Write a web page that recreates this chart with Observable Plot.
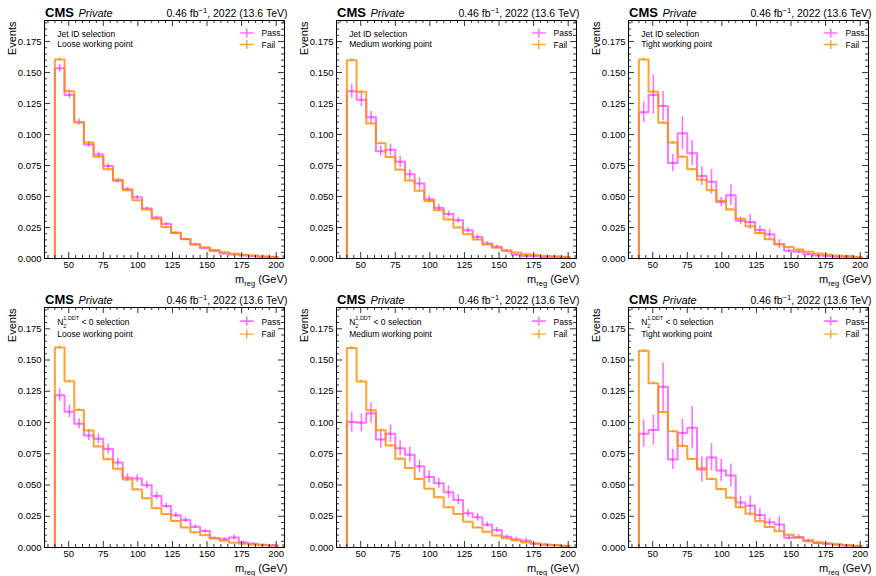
<!DOCTYPE html>
<html><head><meta charset="utf-8">
<script src="https://cdn.jsdelivr.net/npm/d3@7"></script>
<script src="https://cdn.jsdelivr.net/npm/@observablehq/plot@0.6"></script>
<style>
html,body{margin:0;padding:0;background:#fff;}
#grid{display:grid;grid-template-columns:292px 292px 292px;grid-template-rows:288px 288px;width:876px;height:576px;overflow:hidden;}
#grid svg{display:block;}
</style></head><body><div id="grid"></div>
<script>
// ---- bins & ticks ----
const binEdges = d3.range(40, 202, 7); // 40..201, 23 bins
const xMajorTicks = [50, 75, 100, 125, 150, 175, 200];
const xMinorTicks = [35, 40, 45, 55, 60, 65, 70, 80, 85, 90, 95, 105, 110, 115, 120, 130, 135, 140, 145, 155, 160, 165, 170, 180, 185, 190, 195, 205];
const yMajorTicks = [0, 0.025, 0.05, 0.075, 0.1, 0.125, 0.15, 0.175];
const yMinorTicks = [0.005,0.01,0.015,0.02,0.03,0.035,0.04,0.045,0.055,0.06,0.065,0.07,0.08,0.085,0.09,0.095,0.105,0.11,0.115,0.12,0.13,0.135,0.14,0.145,0.155,0.16,0.165,0.17,0.18,0.185,0.19];

// ---- labels ----
const selectionLabels = ["Jet ID selection", "Jet ID selection", "Jet ID selection",
  "N2^1,DDT < 0 selection", "N2^1,DDT < 0 selection", "N2^1,DDT < 0 selection"];
const workingPointLabels = ["Loose working point", "Medium working point", "Tight working point",
  "Loose working point", "Medium working point", "Tight working point"];
const legendLabels = ["Pass", "Fail"];
const yLabel = "Events";
const xLabel = "m_reg (GeV)";
const lumiLabel = "0.46 fb^-1, 2022 (13.6 TeV)";
const expLabel = "CMS";
const statusLabel = "Private";

// ---- series ----
const passJetLoose = [0.1535, 0.132, 0.110, 0.092, 0.084, 0.0746, 0.0628, 0.0558, 0.0494, 0.0403, 0.033, 0.0279, 0.0207, 0.0158, 0.0113, 0.0083, 0.006, 0.004, 0.0032, 0.0025, 0.0018, 0.0013, 0.001];
const passErrJetLoose = [0.003, 0.003, 0.0025, 0.0022, 0.002, 0.0019, 0.0017, 0.0016, 0.0015, 0.0013, 0.0012, 0.0011, 0.001, 0.0009, 0.0008, 0.0007, 0.0006, 0.0005, 0.0004, 0.0004, 0.0003, 0.0003, 0.0002];
const failJetLoose = [0.1605, 0.135, 0.110, 0.0935, 0.082, 0.072, 0.0635, 0.055, 0.047, 0.0395, 0.032, 0.0255, 0.0205, 0.0155, 0.0115, 0.009, 0.0068, 0.005, 0.0038, 0.003, 0.0024, 0.0019, 0.0015];

const passJetMedium = [0.1349, 0.128, 0.114, 0.0866, 0.0877, 0.078, 0.068, 0.0606, 0.0477, 0.0408, 0.0359, 0.0308, 0.0228, 0.0174, 0.0121, 0.0094, 0.0062, 0.003, 0.0021, 0.0018, 0.0013, 0.001, 0.0008];
const passErrJetMedium = [0.0056, 0.0056, 0.0045, 0.004, 0.0045, 0.0045, 0.0036, 0.0045, 0.003, 0.0027, 0.0025, 0.0023, 0.002, 0.0018, 0.0015, 0.0013, 0.001, 0.0008, 0.0006, 0.0005, 0.0005, 0.0004, 0.0003];
const failJetMedium = [0.160, 0.1346, 0.109, 0.093, 0.0818, 0.0716, 0.063, 0.0547, 0.0464, 0.0389, 0.0314, 0.025, 0.0196, 0.0153, 0.0113, 0.0086, 0.0064, 0.0048, 0.0035, 0.0028, 0.0022, 0.0018, 0.0014];

const passJetTight = [0.118, 0.132, 0.123, 0.077, 0.101, 0.085, 0.0665, 0.062, 0.0455, 0.051, 0.0305, 0.0295, 0.023, 0.0195, 0.0115, 0.0062, 0.0054, 0.0035, 0.0025, 0.002, 0.0015, 0.001, 0.0008];
const passErrJetTight = [0.0083, 0.0158, 0.0117, 0.0071, 0.0134, 0.010, 0.0076, 0.010, 0.004, 0.0082, 0.003, 0.006, 0.0034, 0.004, 0.0036, 0.0015, 0.0012, 0.001, 0.0008, 0.0006, 0.0005, 0.0005, 0.0004];
const failJetTight = [0.1605, 0.1345, 0.1095, 0.0935, 0.082, 0.072, 0.0635, 0.055, 0.0465, 0.0395, 0.032, 0.026, 0.0205, 0.0155, 0.0115, 0.0092, 0.0072, 0.0055, 0.004, 0.0032, 0.0025, 0.002, 0.0015];

const passN2Loose = [0.1219, 0.1087, 0.099, 0.0896, 0.087, 0.0789, 0.068, 0.0558, 0.0553, 0.0499, 0.0413, 0.0333, 0.0258, 0.022, 0.0166, 0.0132, 0.0075, 0.0068, 0.008, 0.004, 0.003, 0.0022, 0.0018];
const passErrN2Loose = [0.005, 0.005, 0.004, 0.004, 0.004, 0.004, 0.003, 0.003, 0.003, 0.003, 0.003, 0.002, 0.002, 0.002, 0.0015, 0.0015, 0.001, 0.001, 0.002, 0.001, 0.0008, 0.0006, 0.0005];
const failN2Loose = [0.160, 0.133, 0.110, 0.0937, 0.0808, 0.0706, 0.0631, 0.0545, 0.0464, 0.0395, 0.0314, 0.0268, 0.0212, 0.0161, 0.0123, 0.0099, 0.0075, 0.0054, 0.0038, 0.003, 0.0022, 0.0018, 0.0014];

const passN2Medium = [0.1004, 0.0998, 0.1074, 0.0864, 0.091, 0.0794, 0.0743, 0.065, 0.0564, 0.0515, 0.0443, 0.0381, 0.0274, 0.0242, 0.0183, 0.014, 0.0086, 0.0064, 0.0054, 0.003, 0.0022, 0.0018, 0.0012];
const passErrN2Medium = [0.008, 0.007, 0.008, 0.007, 0.007, 0.006, 0.006, 0.005, 0.005, 0.004, 0.005, 0.004, 0.003, 0.003, 0.002, 0.002, 0.0015, 0.002, 0.002, 0.001, 0.0008, 0.0007, 0.0005];
const failN2Medium = [0.1597, 0.1329, 0.1098, 0.0939, 0.0816, 0.0711, 0.0636, 0.0548, 0.047, 0.0403, 0.0322, 0.0268, 0.0207, 0.0161, 0.0126, 0.0097, 0.0075, 0.0059, 0.004, 0.0032, 0.0025, 0.002, 0.0015];

const passN2Tight = [0.091, 0.094, 0.1287, 0.0705, 0.0916, 0.0958, 0.0624, 0.0721, 0.0616, 0.0576, 0.036, 0.0334, 0.026, 0.0203, 0.0184, 0.0079, 0.0084, 0.0053, 0.0037, 0.003, 0.0022, 0.0015, 0.001];
const passErrN2Tight = [0.011, 0.012, 0.019, 0.008, 0.011, 0.017, 0.010, 0.011, 0.009, 0.009, 0.005, 0.008, 0.005, 0.003, 0.006, 0.002, 0.002, 0.0015, 0.0012, 0.001, 0.0008, 0.0006, 0.0005];
const failN2Tight = [0.1575, 0.1315, 0.1085, 0.093, 0.0812, 0.0708, 0.0635, 0.0548, 0.0468, 0.0398, 0.0323, 0.027, 0.021, 0.0164, 0.013, 0.0103, 0.0079, 0.0058, 0.0042, 0.0032, 0.0026, 0.002, 0.0015];

const failErr = [0.0012, 0.0011, 0.001, 0.0009, 0.0008, 0.0008, 0.0007, 0.0007, 0.0006, 0.0006, 0.0005, 0.0005, 0.0004, 0.0004, 0.0003, 0.0003, 0.0003, 0.0002, 0.0002, 0.0002, 0.0002, 0.0001, 0.0001];

const passSeries = [passJetLoose, passJetMedium, passJetTight, passN2Loose, passN2Medium, passN2Tight];
const passErrSeries = [passErrJetLoose, passErrJetMedium, passErrJetTight, passErrN2Loose, passErrN2Medium, passErrN2Tight];
const failSeries = [failJetLoose, failJetMedium, failJetTight, failN2Loose, failN2Medium, failN2Tight];

const PASS = "#ff00ff", FAIL = "#ff8c00";
const FONT = "'Liberation Sans', Arial, Helvetica, sans-serif";

// rich-text replacements (sub/superscripts)
const RICH = {
  "m_reg (GeV)": [["m"], ["reg", {dy: 3, fs: 7.5}], [" (GeV)", {dy: -3}]],
  "0.46 fb^-1, 2022 (13.6 TeV)": [["0.46 fb"], ["\u22121", {dy: -4, fs: 7.5}], [", 2022 (13.6 TeV)", {dy: 4}]],
  "N2^1,DDT < 0 selection": [["N"], ["2", {dy: 2.5, fs: 5.5}], ["1,DDT", {dx: -3.1, dy: -7.5, fs: 5.5}], [" < 0 selection", {dy: 5}]]
};
function enrich(svg) {
  svg.querySelectorAll("text").forEach(t => {
    const parts = RICH[t.textContent];
    if (!parts) return;
    t.textContent = "";
    for (const [s, o = {}] of parts) {
      const ts = document.createElementNS("http://www.w3.org/2000/svg", "tspan");
      ts.textContent = s;
      if (o.dy) ts.setAttribute("dy", o.dy);
      if (o.dx) ts.setAttribute("dx", o.dx);
      if (o.fs) ts.setAttribute("font-size", o.fs);
      t.appendChild(ts);
    }
  });
}

const crossSymbol = {draw(ctx) { ctx.moveTo(-7, 0); ctx.lineTo(7, 0); ctx.moveTo(0, -4.5); ctx.lineTo(0, 4.5); }};

function stepPoints(vals) {
  const pts = [{x: binEdges[0], y: 0}];
  vals.forEach((v, i) => { pts.push({x: binEdges[i], y: v}); pts.push({x: binEdges[i + 1], y: v}); });
  pts.push({x: binEdges[vals.length], y: 0});
  return pts;
}
function errPoints(vals, errs) {
  return vals.map((v, i) => ({x: (binEdges[i] + binEdges[i + 1]) / 2, y1: v - errs[i], y2: v + errs[i]}));
}

function panel(i) {
  const row = Math.floor(i / 3);
  const mt = row === 0 ? 20 : 19, mb = row === 0 ? 30 : 29, ml = 44, mr = 8;
  const width = 292, height = 288;
  const W = width - ml - mr, H = height - mt - mb;
  const lg = row === 0 ? {p: 12.5, f: 24, tp: 15.7, tf: 27.3} : {p: 13.6, f: 26.6, tp: 17, tf: 29.3};
  const l2 = row === 0 ? 26.7 : 29.3;
  const l1 = row === 0 ? 16.7 : 17.8;
  const tickStyle = {stroke: "black", strokeWidth: 0.8};
  const svg = Plot.plot({
    width, height, marginTop: mt, marginBottom: mb, marginLeft: ml, marginRight: mr,
    style: {fontFamily: FONT, fontSize: "9.5px", color: "black", background: "white"},
    x: {domain: [32.5, 206]},
    y: {domain: [0, 0.192]},
    marks: [
      Plot.line(stepPoints(passSeries[i]), {x: "x", y: "y", stroke: PASS, strokeWidth: 2, strokeOpacity: 0.55}),
      Plot.ruleX(errPoints(passSeries[i], passErrSeries[i]), {x: "x", y1: "y1", y2: "y2", stroke: PASS, strokeWidth: 1.6, strokeOpacity: 0.55}),
      Plot.line(stepPoints(failSeries[i]), {x: "x", y: "y", stroke: FAIL, strokeWidth: 2, strokeOpacity: 0.8}),
      Plot.ruleX(errPoints(failSeries[i], failErr), {x: "x", y1: "y1", y2: "y2", stroke: FAIL, strokeWidth: 1.4, strokeOpacity: 0.8}),
      Plot.frame({stroke: "black", strokeWidth: 1}),
      // inward ticks on all sides
      Plot.ruleX(xMajorTicks, {x: d => d, insetTop: H - 6, ...tickStyle}),
      Plot.ruleX(xMinorTicks, {x: d => d, insetTop: H - 3, ...tickStyle}),
      Plot.ruleX(xMajorTicks, {x: d => d, insetBottom: H - 6, ...tickStyle}),
      Plot.ruleX(xMinorTicks, {x: d => d, insetBottom: H - 3, ...tickStyle}),
      Plot.ruleY(yMajorTicks, {y: d => d, insetRight: W - 6, ...tickStyle}),
      Plot.ruleY(yMinorTicks, {y: d => d, insetRight: W - 3, ...tickStyle}),
      Plot.ruleY(yMajorTicks, {y: d => d, insetLeft: W - 6, ...tickStyle}),
      Plot.ruleY(yMinorTicks, {y: d => d, insetLeft: W - 3, ...tickStyle}),
      Plot.axisX(xMajorTicks, {tickSize: 0, tickPadding: 3, label: null, fontSize: 9.5}),
      Plot.axisY(yMajorTicks, {tickSize: 0, tickPadding: 3, label: null, tickFormat: d3.format(".3f"), fontSize: 9.5}),
      // axis titles
      Plot.text([yLabel], {frameAnchor: "top-left", dx: -32.3, dy: 1, rotate: -90, textAnchor: "end", lineAnchor: "middle", fontSize: 11}),
      Plot.text([xLabel], {frameAnchor: "bottom-right", dx: 3, dy: 24, textAnchor: "end", lineAnchor: "bottom", fontSize: 11}),
      // header
      Plot.text([expLabel], {frameAnchor: "top-left", dx: 0.5, dy: -3.5, textAnchor: "start", lineAnchor: "bottom", fontSize: 13, fontWeight: "bold"}),
      Plot.text([statusLabel], {frameAnchor: "top-left", dx: 34, dy: -3.5, textAnchor: "start", lineAnchor: "bottom", fontSize: 11, fontStyle: "italic"}),
      Plot.text([lumiLabel], {frameAnchor: "top-right", dx: 3, dy: -4, textAnchor: "end", lineAnchor: "bottom", fontSize: 10.5}),
      // in-frame annotation
      Plot.text([selectionLabels[i]], {frameAnchor: "top-left", dx: 12.7, dy: l1, textAnchor: "start", lineAnchor: "bottom", fontSize: 8.5}),
      Plot.text([workingPointLabels[i]], {frameAnchor: "top-left", dx: 12.7, dy: l2, textAnchor: "start", lineAnchor: "bottom", fontSize: 8.5}),
      // legend
      Plot.dot([legendLabels[0]], {frameAnchor: "top-right", dx: -37.7, dy: lg.p, symbol: crossSymbol, fill: "none", stroke: PASS, strokeWidth: 1.6, strokeOpacity: 0.55}),
      Plot.dot([legendLabels[1]], {frameAnchor: "top-right", dx: -37.7, dy: lg.f, symbol: crossSymbol, fill: "none", stroke: FAIL, strokeWidth: 1.4, strokeOpacity: 0.8}),
      Plot.text([legendLabels[0]], {frameAnchor: "top-right", dx: -23, dy: lg.tp, textAnchor: "start", lineAnchor: "bottom", fontSize: 8.5}),
      Plot.text([legendLabels[1]], {frameAnchor: "top-right", dx: -23, dy: lg.tf, textAnchor: "start", lineAnchor: "bottom", fontSize: 8.5})
    ]
  });
  enrich(svg);
  return svg;
}

const grid = document.getElementById("grid");
for (let i = 0; i < 6; i++) grid.appendChild(panel(i));
</script>
</body></html>
